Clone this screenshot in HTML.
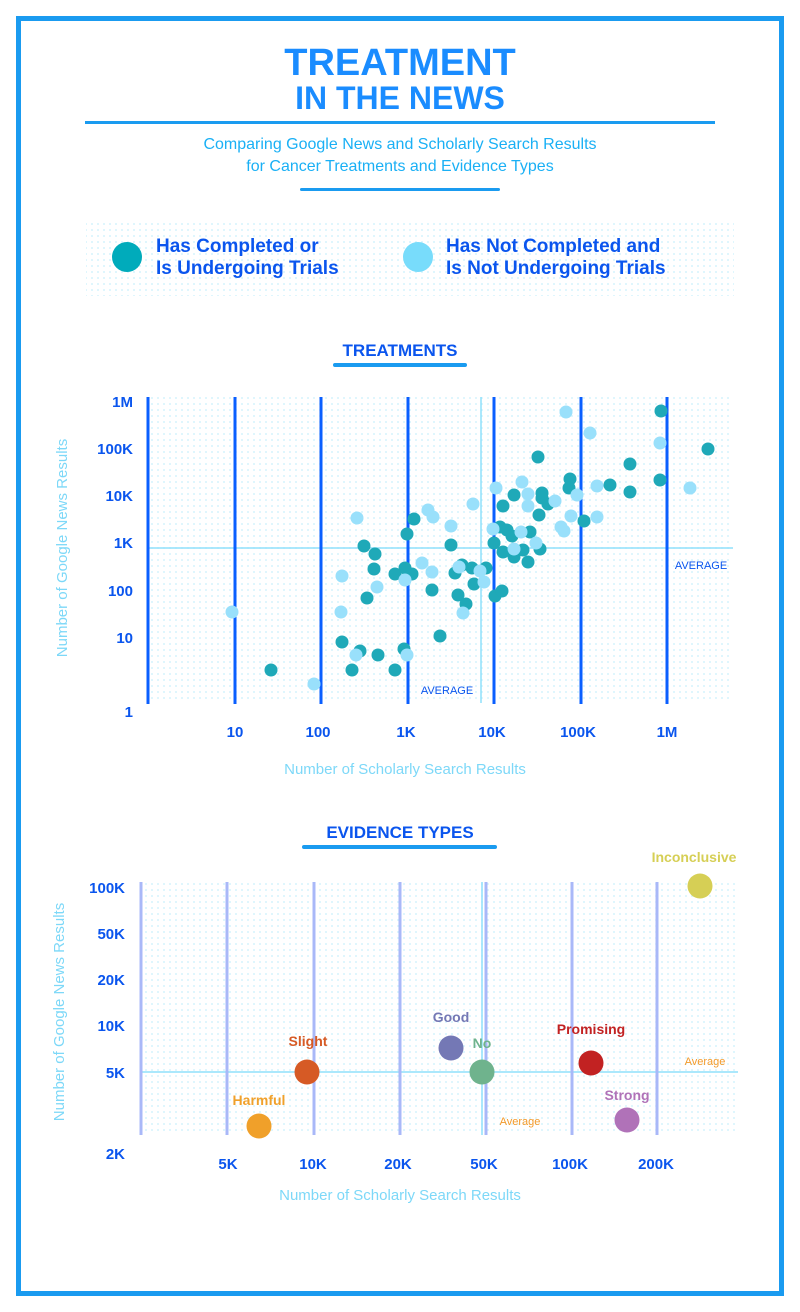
<!DOCTYPE html>
<html><head><meta charset="utf-8"><style>
html,body{margin:0;padding:0;background:#fff;}
svg{display:block;}
text{font-family:"Liberation Sans",sans-serif;}
</style></head><body>
<svg width="800" height="1312" viewBox="0 0 800 1312" xmlns="http://www.w3.org/2000/svg">
<defs>
<pattern id="dots" width="6" height="6" patternUnits="userSpaceOnUse"><circle cx="2" cy="2" r="0.9" fill="#c8f0fb"/></pattern>
</defs>
<rect x="0" y="0" width="800" height="1312" fill="#fff"/>
<rect x="18.5" y="18.5" width="763" height="1275" fill="none" stroke="#1a9bf0" stroke-width="5"/>

<text x="400" y="75" text-anchor="middle" font-size="38" font-weight="bold" fill="#1a8cff">TREATMENT</text>
<text x="400" y="109" text-anchor="middle" font-size="32" font-weight="bold" fill="#1a8cff">IN THE NEWS</text>
<rect x="85" y="121" width="630" height="3" fill="#1a9bf0"/>
<text x="400" y="149" text-anchor="middle" font-size="16" fill="#1ab0f5">Comparing Google News and Scholarly Search Results</text>
<text x="400" y="171" text-anchor="middle" font-size="16" fill="#1ab0f5">for Cancer Treatments and Evidence Types</text>
<rect x="300" y="188" width="200" height="3" rx="1.5" fill="#1a9bf0"/>

<rect x="86" y="222" width="648" height="74" fill="url(#dots)"/>
<circle cx="127" cy="257" r="15" fill="#00abbb"/>
<circle cx="418" cy="257" r="15" fill="#78dcfb"/>
<text x="156" y="252" font-size="19" font-weight="bold" fill="#0a55ee">Has Completed or</text>
<text x="156" y="274" font-size="19" font-weight="bold" fill="#0a55ee">Is Undergoing Trials</text>
<text x="446" y="252" font-size="19" font-weight="bold" fill="#0a55ee">Has Not Completed and</text>
<text x="446" y="274" font-size="19" font-weight="bold" fill="#0a55ee">Is Not Undergoing Trials</text>

<text x="400" y="356" text-anchor="middle" font-size="17" font-weight="bold" fill="#0a55ee">TREATMENTS</text>
<rect x="333" y="363" width="134" height="4" rx="2" fill="#1a9bf0"/>

<!-- Chart 1 -->
<rect x="147" y="397" width="586" height="306" fill="url(#dots)"/>
<line x1="147" y1="548" x2="733" y2="548" stroke="#8fe0fb" stroke-width="1.5"/>
<line x1="481" y1="397" x2="481" y2="703" stroke="#8fe0fb" stroke-width="1.5"/>
<g stroke="#0a5fff" stroke-width="3">
<line x1="148" y1="397" x2="148" y2="704"/><line x1="235" y1="397" x2="235" y2="704"/><line x1="321" y1="397" x2="321" y2="704"/><line x1="408" y1="397" x2="408" y2="704"/><line x1="494" y1="397" x2="494" y2="704"/><line x1="581" y1="397" x2="581" y2="704"/><line x1="667" y1="397" x2="667" y2="704"/>
</g>
<g font-size="15" font-weight="bold" fill="#0a55ee" text-anchor="end">
<text x="133" y="407">1M</text><text x="133" y="454">100K</text><text x="133" y="501">10K</text><text x="133" y="548">1K</text><text x="133" y="596">100</text><text x="133" y="643">10</text><text x="133" y="717">1</text>
</g>
<g font-size="15" font-weight="bold" fill="#0a55ee" text-anchor="middle">
<text x="235" y="737">10</text><text x="318" y="737">100</text><text x="406" y="737">1K</text><text x="492" y="737">10K</text><text x="578" y="737">100K</text><text x="667" y="737">1M</text>
</g>
<text x="701" y="569" text-anchor="middle" font-size="11" fill="#0a55ee">AVERAGE</text>
<text x="447" y="694" text-anchor="middle" font-size="11" fill="#0a55ee">AVERAGE</text>
<text x="405" y="774" text-anchor="middle" font-size="15" fill="#7dd8f8">Number of Scholarly Search Results</text>
<text transform="translate(67,548) rotate(-90)" text-anchor="middle" font-size="15" fill="#7dd8f8">Number of Google News Results</text>

<g fill="#1fa9b8">
<circle cx="661" cy="411" r="6.5"/><circle cx="708" cy="449" r="6.5"/><circle cx="630" cy="464" r="6.5"/><circle cx="630" cy="492" r="6.5"/><circle cx="660" cy="480" r="6.5"/><circle cx="610" cy="485" r="6.5"/><circle cx="570" cy="479" r="6.5"/><circle cx="569" cy="488" r="6.5"/><circle cx="538" cy="457" r="6.5"/><circle cx="542" cy="493" r="6.5"/><circle cx="542" cy="498" r="6.5"/><circle cx="548" cy="504" r="6.5"/><circle cx="514" cy="495" r="6.5"/><circle cx="503" cy="506" r="6.5"/><circle cx="539" cy="515" r="6.5"/><circle cx="584" cy="521" r="6.5"/><circle cx="500" cy="527" r="6.5"/><circle cx="507" cy="530" r="6.5"/><circle cx="512" cy="536" r="6.5"/><circle cx="530" cy="532" r="6.5"/><circle cx="494" cy="543" r="6.5"/><circle cx="503" cy="552" r="6.5"/><circle cx="514" cy="557" r="6.5"/><circle cx="523" cy="550" r="6.5"/><circle cx="540" cy="549" r="6.5"/><circle cx="528" cy="562" r="6.5"/><circle cx="414" cy="519" r="6.5"/><circle cx="407" cy="534" r="6.5"/><circle cx="451" cy="545" r="6.5"/><circle cx="405" cy="568" r="6.5"/><circle cx="412" cy="574" r="6.5"/><circle cx="455" cy="573" r="6.5"/><circle cx="462" cy="565" r="6.5"/><circle cx="472" cy="568" r="6.5"/><circle cx="486" cy="568" r="6.5"/><circle cx="474" cy="584" r="6.5"/><circle cx="432" cy="590" r="6.5"/><circle cx="458" cy="595" r="6.5"/><circle cx="466" cy="604" r="6.5"/><circle cx="495" cy="596" r="6.5"/><circle cx="502" cy="591" r="6.5"/><circle cx="440" cy="636" r="6.5"/><circle cx="404" cy="649" r="6.5"/>
<circle cx="364" cy="546" r="6.5"/><circle cx="375" cy="554" r="6.5"/><circle cx="374" cy="569" r="6.5"/><circle cx="395" cy="574" r="6.5"/><circle cx="367" cy="598" r="6.5"/><circle cx="342" cy="642" r="6.5"/><circle cx="360" cy="651" r="6.5"/><circle cx="378" cy="655" r="6.5"/><circle cx="352" cy="670" r="6.5"/><circle cx="395" cy="670" r="6.5"/><circle cx="271" cy="670" r="6.5"/>
</g>
<g fill="#99e0fb">
<circle cx="566" cy="412" r="6.5"/><circle cx="590" cy="433" r="6.5"/><circle cx="660" cy="443" r="6.5"/><circle cx="690" cy="488" r="6.5"/><circle cx="597" cy="486" r="6.5"/><circle cx="577" cy="495" r="6.5"/><circle cx="571" cy="516" r="6.5"/><circle cx="597" cy="517" r="6.5"/><circle cx="561" cy="527" r="6.5"/><circle cx="564" cy="531" r="6.5"/><circle cx="555" cy="501" r="6.5"/><circle cx="522" cy="482" r="6.5"/><circle cx="528" cy="494" r="6.5"/><circle cx="528" cy="506" r="6.5"/><circle cx="496" cy="488" r="6.5"/><circle cx="493" cy="529" r="6.5"/><circle cx="521" cy="532" r="6.5"/><circle cx="514" cy="549" r="6.5"/><circle cx="536" cy="543" r="6.5"/><circle cx="473" cy="504" r="6.5"/><circle cx="428" cy="510" r="6.5"/><circle cx="433" cy="517" r="6.5"/><circle cx="451" cy="526" r="6.5"/><circle cx="422" cy="563" r="6.5"/><circle cx="432" cy="572" r="6.5"/><circle cx="459" cy="567" r="6.5"/><circle cx="480" cy="571" r="6.5"/><circle cx="484" cy="582" r="6.5"/><circle cx="463" cy="613" r="6.5"/><circle cx="405" cy="580" r="6.5"/><circle cx="407" cy="655" r="6.5"/>
<circle cx="357" cy="518" r="6.5"/><circle cx="342" cy="576" r="6.5"/><circle cx="377" cy="587" r="6.5"/><circle cx="232" cy="612" r="6.5"/><circle cx="341" cy="612" r="6.5"/><circle cx="356" cy="655" r="6.5"/><circle cx="314" cy="684" r="6.5"/>
</g>

<!-- Chart 2 -->
<text x="400" y="838" text-anchor="middle" font-size="17" font-weight="bold" fill="#0a55ee">EVIDENCE TYPES</text>
<rect x="302" y="845" width="195" height="4" rx="2" fill="#1a9bf0"/>
<rect x="140" y="882" width="598" height="253" fill="url(#dots)"/>
<line x1="140" y1="1072" x2="738" y2="1072" stroke="#8fe0fb" stroke-width="1.5"/>
<line x1="482" y1="882" x2="482" y2="1135" stroke="#8fe0fb" stroke-width="1.5"/>
<g stroke="#a9b8f8" stroke-width="3">
<line x1="141" y1="882" x2="141" y2="1135"/><line x1="227" y1="882" x2="227" y2="1135"/><line x1="314" y1="882" x2="314" y2="1135"/><line x1="400" y1="882" x2="400" y2="1135"/><line x1="486" y1="882" x2="486" y2="1135"/><line x1="572" y1="882" x2="572" y2="1135"/><line x1="657" y1="882" x2="657" y2="1135"/>
</g>
<g font-size="15" font-weight="bold" fill="#0a55ee" text-anchor="end">
<text x="125" y="893">100K</text><text x="125" y="939">50K</text><text x="125" y="985">20K</text><text x="125" y="1031">10K</text><text x="125" y="1078">5K</text><text x="125" y="1159">2K</text>
</g>
<g font-size="15" font-weight="bold" fill="#0a55ee" text-anchor="middle">
<text x="228" y="1169">5K</text><text x="313" y="1169">10K</text><text x="398" y="1169">20K</text><text x="484" y="1169">50K</text><text x="570" y="1169">100K</text><text x="656" y="1169">200K</text>
</g>
<text x="400" y="1200" text-anchor="middle" font-size="15" fill="#7dd8f8">Number of Scholarly Search Results</text>
<text transform="translate(64,1012) rotate(-90)" text-anchor="middle" font-size="15" fill="#7dd8f8">Number of Google News Results</text>
<text x="705" y="1065" text-anchor="middle" font-size="11" fill="#f39a2a">Average</text>
<text x="520" y="1125" text-anchor="middle" font-size="11" fill="#f39a2a">Average</text>

<circle cx="259" cy="1126" r="12.5" fill="#f0a02a"/>
<circle cx="307" cy="1072" r="12.5" fill="#d65a25"/>
<circle cx="451" cy="1048" r="12.5" fill="#7478b5"/>
<circle cx="482" cy="1072" r="12.5" fill="#6fb38d"/>
<circle cx="591" cy="1063" r="12.5" fill="#c22222"/>
<circle cx="627" cy="1120" r="12.5" fill="#b072b8"/>
<circle cx="700" cy="886" r="12.5" fill="#d6cf55"/>
<g font-size="14" font-weight="bold" text-anchor="middle">
<text x="259" y="1105" fill="#f0a02a">Harmful</text>
<text x="308" y="1046" fill="#d65a25">Slight</text>
<text x="451" y="1022" fill="#7478b5">Good</text>
<text x="482" y="1048" fill="#6fb38d">No</text>
<text x="591" y="1034" fill="#c22222">Promising</text>
<text x="627" y="1100" fill="#b072b8">Strong</text>
<text x="694" y="862" fill="#d6cf55">Inconclusive</text>
</g>
</svg>
</body></html>
